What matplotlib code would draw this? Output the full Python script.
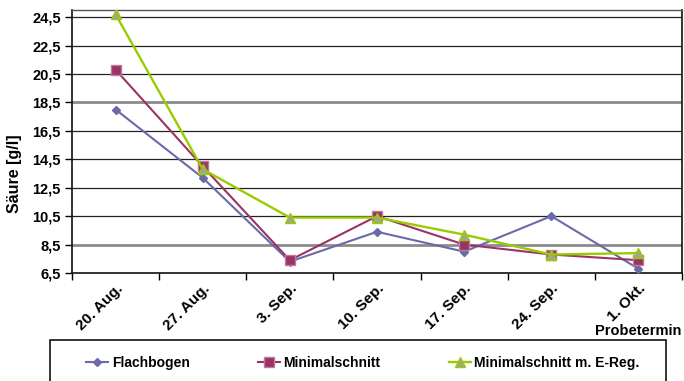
#!/usr/bin/env python3
import matplotlib
matplotlib.use("Agg")
import matplotlib.pyplot as plt
from matplotlib.patches import Rectangle
import numpy as np

# sampling dates and acid content per pruning system
termine = ["20. Aug.", "27. Aug.", "3. Sep.", "10. Sep.", "17. Sep.", "24. Sep.", "1. Okt."]
flachbogen = [18.0, 13.2, 7.3, 9.4, 8.0, 10.5, 6.8]
minimalschnitt = [20.8, 14.0, 7.4, 10.5, 8.5, 7.8, 7.4]
minimal_ereg = [24.7, 13.8, 10.4, 10.4, 9.2, 7.8, 7.9]
yticks = [6.5, 8.5, 10.5, 12.5, 14.5, 16.5, 18.5, 20.5, 22.5, 24.5]
ytick_labels = ["6,5", "8,5", "10,5", "12,5", "14,5", "16,5", "18,5", "20,5", "22,5", "24,5"]

plt.rcParams['font.family'] = ['Liberation Sans', 'DejaVu Sans']
plt.rcParams['font.weight'] = 'bold'
plt.rcParams['font.size'] = 10.5

fig = plt.figure(figsize=(6.84, 3.81), dpi=100)
W, H = 684, 381
ax = fig.add_axes([72 / W, 1 - 273 / H, (682 - 72) / W, (273 - 10) / H])

x = np.arange(len(termine))

# horizontal grid, two lines come out grey and heavier
for yv in yticks[1:]:
    if yv in (8.5, 18.5):
        ax.axhline(yv, color="#8c8c8c", lw=2.0, zorder=1)
    else:
        ax.axhline(yv, color="#222222", lw=0.9, zorder=1)

ax.plot(x, flachbogen, color="#6a6aa8", lw=1.5, marker="D", ms=4.5,
        mfc="#6a6aa8", mec="#6a6aa8", label="Flachbogen", zorder=3)
ax.plot(x, minimalschnitt, color="#993366", lw=1.5, marker="s", ms=6.5,
        mfc="#993366", mec="#c07a9a", label="Minimalschnitt", zorder=4)
ax.plot(x, minimal_ereg, color="#99cc00", lw=1.7, marker="^", ms=7,
        mfc="#a0a88a", mec="#99cc00", label="Minimalschnitt m. E-Reg.", zorder=5)

ax.set_xlim(-0.5, len(termine) - 0.5)
ax.set_ylim(6.5, 25.0)

ax.set_yticks(yticks)
ax.set_yticklabels(ytick_labels)
ax.tick_params(axis="y", length=5, width=1, direction="out", pad=3)

ax.set_xticks(np.arange(-0.5, len(termine), 1.0))
ax.set_xticklabels([])
ax.tick_params(axis="x", which="major", length=5, width=1, direction="out")
ax.set_xticks(x, minor=True)
ax.set_xticklabels(termine, minor=True, rotation=45, ha="right", va="top",
                   rotation_mode="anchor", fontsize=11)
ax.tick_params(axis="x", which="minor", length=0, pad=6)

for side in ("left", "bottom", "right"):
    ax.spines[side].set_color("#111111")
    ax.spines[side].set_linewidth(1.2)
ax.spines["top"].set_color("#555555")
ax.spines["top"].set_linewidth(1.0)

fig.text(15 / W, 1 - 174 / H, "Säure [g/l]", rotation=90, ha="center", va="center",
         fontsize=11.5)
fig.text(681 / W, 1 - 331 / H, "Probetermin", ha="right", va="center")

# legend box runs off the bottom edge
fig.patches.append(Rectangle((50 / W, -0.05), (666 - 50) / W, 0.05 + 1 - 340 / H,
                             transform=fig.transFigure, fill=False,
                             edgecolor="#111111", lw=1.2))
fig.legend(loc="center left", bbox_to_anchor=(86 / W, 1 - 363 / H), ncol=3,
           frameon=False, borderpad=0, borderaxespad=0, handlelength=1.6,
           handletextpad=0.25, columnspacing=4.9, fontsize=10)

fig.savefig("out.png", dpi=100)
